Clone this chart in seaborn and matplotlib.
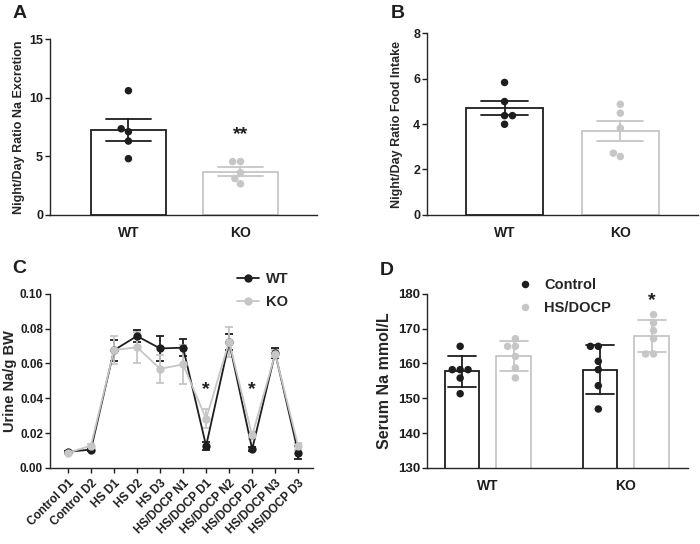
import numpy as np
import pandas as pd
import matplotlib
matplotlib.use('Agg')
import matplotlib.pyplot as plt
import seaborn as sns

# ---- data ----
genotypes = ['WT', 'KO']

# A: night/day ratio Na excretion (per animal)
na_ratio_wt = [10.6, 7.35, 7.1, 6.3, 4.8]
na_ratio_ko = [4.55, 4.55, 3.6, 3.1, 2.65]

# B: night/day ratio food intake
food_ratio_wt = [5.83, 4.99, 4.37, 4.37, 3.99]
food_ratio_ko = [4.87, 4.48, 3.82, 2.72, 2.57]

# C: urine Na/g BW, mean and SEM per day
days = ['Control D1', 'Control D2', 'HS D1', 'HS D2', 'HS D3',
        'HS/DOCP N1', 'HS/DOCP D1', 'HS/DOCP N2', 'HS/DOCP D2',
        'HS/DOCP N3', 'HS/DOCP D3']
urine_wt = [0.0092, 0.0105, 0.0676, 0.0757, 0.0686, 0.0690, 0.0126,
            0.0722, 0.0107, 0.0660, 0.0086]
urine_wt_sem = [0.0005, 0.0008, 0.0060, 0.0035, 0.0070, 0.0050, 0.0025,
                0.0045, 0.0012, 0.0030, 0.0038]
urine_ko = [0.0086, 0.0128, 0.0676, 0.0693, 0.0569, 0.0594, 0.0282,
            0.0724, 0.0186, 0.0655, 0.0125]
urine_ko_sem = [0.0006, 0.0010, 0.0080, 0.0090, 0.0080, 0.0110, 0.0055,
                0.0085, 0.0020, 0.0020, 0.0020]

# D: serum Na (per animal)
treatments = ['Control', 'HS/DOCP']
serum_wt_ctrl = [164.9, 158.2, 158.2, 158.2, 155.8, 151.3]
serum_wt_hs = [167.1, 164.9, 164.9, 162.0, 158.7, 155.8]
serum_ko_ctrl = [164.9, 164.9, 160.6, 158.2, 153.6, 146.9]
serum_ko_hs = [174.0, 171.6, 169.4, 167.1, 162.7, 162.7]

BLACK = '#1e1e1e'
GREY = '#c6c6c6'
pal = {'WT': BLACK, 'KO': GREY, 'Control': BLACK, 'HS/DOCP': GREY}

sns.set_style('ticks')
plt.rcParams['font.family'] = ['Liberation Sans', 'DejaVu Sans']
plt.rcParams['font.weight'] = 'bold'
plt.rcParams['axes.labelweight'] = 'bold'
plt.rcParams['axes.linewidth'] = 1.0
plt.rcParams['xtick.major.width'] = 1.0
plt.rcParams['ytick.major.width'] = 1.0
plt.rcParams['xtick.major.size'] = 3.5
plt.rcParams['ytick.major.size'] = 3.5
plt.rcParams['ytick.major.pad'] = 1.5
plt.rcParams['xtick.color'] = BLACK
plt.rcParams['ytick.color'] = BLACK

fig = plt.figure(figsize=(7, 5.44), dpi=100)
axA = fig.add_axes([0.0714, 0.605, 0.381, 0.323])
axB = fig.add_axes([0.610, 0.605, 0.387, 0.334])
axC = fig.add_axes([0.0714, 0.140, 0.376, 0.320])
axD = fig.add_axes([0.610, 0.140, 0.373, 0.320])

TICK_FS = 9
XLAB_FS = 10
LAB_FS = 9


def two_bar_panel(ax, wt, ko, ylabel, yticks):
    df = pd.DataFrame({'genotype': ['WT'] * len(wt) + ['KO'] * len(ko),
                       'value': wt + ko})
    sns.barplot(data=df, x='genotype', y='value', hue='genotype',
                order=genotypes, palette=pal, fill=False, errorbar='se',
                capsize=0.4, width=0.67, linewidth=1.3,
                err_kws={'linewidth': 1.3}, legend=False, ax=ax)
    sns.swarmplot(data=df, x='genotype', y='value', hue='genotype',
                  order=genotypes, palette=pal, size=5.4, legend=False, ax=ax)
    ax.set_xlim(-0.7, 1.68)
    ax.set_ylim(yticks[0], yticks[-1])
    ax.set_yticks(yticks)
    ax.set_xlabel('')
    ax.set_ylabel(ylabel, fontsize=LAB_FS, fontweight='bold')
    ax.tick_params(axis='x', length=0, labelsize=XLAB_FS, pad=8)
    ax.tick_params(axis='y', labelsize=TICK_FS)
    sns.despine(ax=ax)


two_bar_panel(axA, na_ratio_wt, na_ratio_ko,
              'Night/Day Ratio Na Excretion', [0, 5, 10, 15])
axA.text(1, 6.1, '**', ha='center', va='bottom', fontsize=14, color=BLACK)
axA.yaxis.set_label_coords(-0.094, 0.5)

two_bar_panel(axB, food_ratio_wt, food_ratio_ko,
              'Night/Day Ratio Food Intake', [0, 2, 4, 6, 8])
axB.set_xlim(-0.67, 1.67)
axB.yaxis.set_label_coords(-0.089, 0.5)

# ---- C ----
xpos = np.arange(len(days))
dfC = pd.DataFrame({'day': np.concatenate([xpos, xpos]),
                    'urine': urine_wt + urine_ko,
                    'genotype': ['WT'] * len(days) + ['KO'] * len(days)})
for g, m, s in [('WT', urine_wt, urine_wt_sem), ('KO', urine_ko, urine_ko_sem)]:
    axC.errorbar(xpos, m, yerr=s, fmt='none', ecolor=pal[g], elinewidth=1.3,
                 capsize=3, capthick=1.3, zorder=3)
sns.lineplot(data=dfC, x='day', y='urine', hue='genotype',
             hue_order=genotypes, palette=pal, marker='o', markersize=6,
             markeredgewidth=0, linewidth=1.3, ax=axC, zorder=4)
axC.set_xlim(-0.78, 10.65)
axC.set_ylim(0, 0.10)
axC.set_yticks([0, 0.02, 0.04, 0.06, 0.08, 0.10])
axC.set_yticklabels(['%.2f' % v for v in [0, 0.02, 0.04, 0.06, 0.08, 0.10]])
axC.set_xticks(xpos)
axC.set_xticklabels(days, rotation=45, ha='right', rotation_mode='anchor')
axC.tick_params(axis='y', labelsize=8.5)
axC.tick_params(axis='x', labelsize=8.5)
axC.set_xlabel('')
axC.set_ylabel('Urine Na/g BW', fontsize=10.5, fontweight='bold')
axC.yaxis.set_label_coords(-0.125, 0.5)
for i in [6, 8]:
    axC.text(i, 0.040, '*', ha='center', va='bottom', fontsize=14, color=BLACK)
h, l = axC.get_legend_handles_labels()
axC.legend(h, l, loc='center left', bbox_to_anchor=(0.66, 1.02),
           frameon=False, fontsize=10.5, handlelength=1.5,
           labelspacing=0.6, handletextpad=0.5)
sns.despine(ax=axC)

# ---- D ----
dfD = pd.DataFrame({
    'genotype': ['WT'] * 12 + ['KO'] * 12,
    'treatment': (['Control'] * 6 + ['HS/DOCP'] * 6) * 2,
    'serum': serum_wt_ctrl + serum_wt_hs + serum_ko_ctrl + serum_ko_hs})
sns.barplot(data=dfD, x='genotype', y='serum', hue='treatment',
            order=genotypes, hue_order=treatments, palette=pal, fill=False,
            errorbar='sd', capsize=0.4, width=0.75, gap=0.33, linewidth=1.3,
            err_kws={'linewidth': 1.3}, legend=False, ax=axD)
sns.swarmplot(data=dfD, x='genotype', y='serum', hue='treatment',
              order=genotypes, hue_order=treatments, palette=pal, dodge=True,
              size=5.4, ax=axD)
axD.set_xlim(-0.44, 1.45)
axD.set_ylim(130, 180)
axD.set_yticks([130, 140, 150, 160, 170, 180])
axD.set_xlabel('')
axD.set_ylabel('Serum Na mmol/L', fontsize=11.5, fontweight='bold')
axD.yaxis.set_label_coords(-0.134, 0.5)
axD.tick_params(axis='x', length=0, labelsize=XLAB_FS, pad=8)
axD.tick_params(axis='y', labelsize=9.5)
axD.text(1.19, 175.5, '*', ha='center', va='bottom', fontsize=14, color=BLACK)
h, l = axD.get_legend_handles_labels()
axD.legend(h, l, loc='center left', bbox_to_anchor=(0.27, 0.985),
           frameon=False, fontsize=10.5, handletextpad=0.3,
           labelspacing=0.6, markerscale=1.0)
sns.despine(ax=axD)

for ax in [axA, axB, axC, axD]:
    for t in ax.get_xticklabels() + ax.get_yticklabels():
        t.set_fontweight('bold')

# panel letters
for x, y, s in [(0.018, 0.99, 'A'), (0.558, 0.99, 'B'),
                (0.018, 0.522, 'C'), (0.543, 0.518, 'D')]:
    fig.text(x, y, s, fontsize=14, fontweight='bold', va='top', ha='left',
             color=BLACK)

fig.savefig('out.png', dpi=100)
